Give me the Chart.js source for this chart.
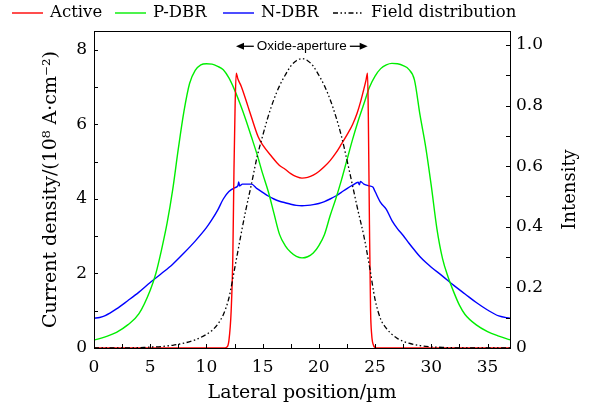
<!DOCTYPE html>
<html>
<head>
<meta charset="utf-8">
<script src="https://cdn.jsdelivr.net/npm/chart.js@4.4.0/dist/chart.umd.min.js"></script>
<style>
  html, body { margin: 0; padding: 0; background: #fff; }
</style>
</head>
<body>
<canvas id="chart" width="593" height="407"></canvas>
<script>
// values, lateral position in um

var activeX = [0, 11.5, 11.8, 12.0, 12.2, 12.35, 12.45, 12.55, 12.65, 12.8, 13.1, 13.7, 14.0, 14.6, 15.0, 15.8, 16.5, 17.0, 17.5, 18.0, 18.5,
               19.0, 19.5, 20.0, 20.5, 21.0, 21.5, 22.0, 22.5, 23.0, 23.4, 23.7, 24.0, 24.2, 24.33, 24.4, 24.5, 24.6, 24.7, 24.85, 25.1, 37];
var activeY = [0, 0, 0.02, 0.2, 1.0, 2.5, 4.8, 6.5, 7.38, 7.22, 7.02, 6.48, 6.2, 5.67, 5.45, 5.14, 4.9, 4.8, 4.68, 4.6, 4.56,
               4.58, 4.64, 4.74, 4.87, 5.03, 5.23, 5.47, 5.72, 6.0, 6.3, 6.6, 6.95, 7.2, 7.38, 6.2, 3.3, 1.0, 0.35, 0.08, 0, 0];

var pdbrX = [0, 1, 2, 3, 4, 5, 5.5, 6, 6.5, 7, 7.5, 8, 8.5, 9, 9.5, 10, 10.5, 11, 11.5, 12, 12.5, 13, 13.5, 14, 14.5, 15, 15.5, 16, 16.5, 17, 17.5, 18, 18.5,
             19, 19.5, 20, 20.5, 21, 21.5, 22, 22.5, 23, 23.5, 24, 24.5, 25, 25.5, 26, 26.5, 27, 27.5, 28, 28.5, 29, 29.5, 30, 30.5, 31, 31.5, 32, 32.5, 33, 34, 35, 36, 37];
var pdbrY = [0.21, 0.3, 0.42, 0.62, 0.92, 1.55, 2.0, 2.63, 3.35, 4.25, 5.35, 6.35, 7.1, 7.45, 7.6, 7.63, 7.62, 7.56, 7.47, 7.25, 6.93, 6.55, 6.13, 5.67, 5.2, 4.68, 4.2, 3.62, 3.05, 2.75, 2.57, 2.46, 2.42,
             2.45, 2.55, 2.75, 3.05, 3.55, 4.0, 4.5, 5.05, 5.6, 6.1, 6.55, 7.0, 7.3, 7.5, 7.6, 7.64, 7.63, 7.58, 7.48, 7.2, 6.25, 5.4, 4.35, 3.2, 2.4, 1.9, 1.5, 1.15, 0.9, 0.62, 0.44, 0.32, 0.22];

var ndbrX = [0, 0.5, 1, 2, 3, 4, 5, 6, 7, 8, 9, 10, 10.5, 11, 11.5, 12, 12.5, 12.8, 12.87, 12.95, 13.2, 14, 14.5, 15, 15.5, 16, 16.5, 17, 17.5, 18, 18.5,
             19, 19.5, 20, 20.5, 21, 21.5, 22, 22.5, 23, 23.5, 23.6, 23.7, 24, 24.5, 24.8, 25, 25.5, 26, 26.5, 27, 27.5, 28, 28.5, 29, 29.5, 30, 31, 32, 33, 34, 35, 36, 37];
var ndbrY = [0.8, 0.82, 0.87, 1.05, 1.27, 1.5, 1.76, 2.0, 2.25, 2.55, 2.87, 3.23, 3.45, 3.7, 4.0, 4.2, 4.3, 4.36, 4.46, 4.35, 4.4, 4.4, 4.28, 4.18, 4.08, 4.0, 3.94, 3.9, 3.86, 3.83, 3.82,
             3.83, 3.85, 3.88, 3.93, 4.0, 4.08, 4.18, 4.28, 4.37, 4.45, 4.38, 4.47, 4.4, 4.35, 4.32, 4.2, 3.9, 3.72, 3.42, 3.2, 3.02, 2.82, 2.63, 2.45, 2.3, 2.17, 1.93, 1.68, 1.45, 1.22, 1.02, 0.86, 0.8];

var fieldX = [0, 3, 5, 6, 7, 8, 9, 10, 10.5, 11, 11.5, 12, 12.5, 13, 13.5, 14, 14.5, 15, 15.5, 16, 16.5, 17, 17.5, 18, 18.5,
              19, 19.5, 20, 20.5, 21, 21.5, 22, 22.5, 23, 23.5, 24, 24.5, 25, 25.5, 26, 26.5, 27, 28, 29, 30, 31, 33, 37];
var fieldY = [0, 0, 0.003, 0.005, 0.009, 0.016, 0.027, 0.045, 0.058, 0.078, 0.11, 0.165, 0.26, 0.36, 0.455, 0.54, 0.63, 0.7, 0.765, 0.82, 0.865, 0.9, 0.93, 0.948, 0.955,
              0.948, 0.93, 0.9, 0.865, 0.82, 0.765, 0.7, 0.62, 0.535, 0.45, 0.37, 0.27, 0.16, 0.095, 0.065, 0.045, 0.031, 0.016, 0.008, 0.004, 0.002, 0, 0];

var seriesLabels = ['Active', 'P-DBR', 'N-DBR', 'Field distribution'];
var xTitle = 'Lateral position/\u00b5m';
var yTitle = 'Current density/(10\u2078 A\u00b7cm\u207b\u00b2)';
var y1Title = 'Intensity';
var apertureLabel = 'Oxide-aperture';
var apertureEdges = [12.63, 24.34];
var apertureLevel = 8.1;

function pts(xs, ys) {
    return xs.map(function(v, i) { return { x: v, y: ys[i] }; });
}

var serif = '"DejaVu Serif", serif';

function arrow(ctx, from, to, py) {
    var dir = to > from ? 1 : -1;
    ctx.beginPath();
    ctx.moveTo(from, py);
    ctx.lineTo(to - dir * 6, py);
    ctx.stroke();
    ctx.beginPath();
    ctx.moveTo(to, py);
    ctx.lineTo(to - dir * 8, py - 3.5);
    ctx.lineTo(to - dir * 8, py + 3.5);
    ctx.closePath();
    ctx.fill();
}

// inward ticks and closed frame
var frameTicks = {
    id: 'frameTicks',
    afterDatasetsDraw: function(chart) {
        var ctx = chart.ctx, a = chart.chartArea;
        var sx = chart.scales.x, sy = chart.scales.y, sy1 = chart.scales.y1;
        var v, p;
        ctx.save();
        ctx.strokeStyle = '#000';
        ctx.lineWidth = 1;
        ctx.beginPath();
        for (v = 0; v <= 37; v += 2.5) {
            p = Math.round(sx.getPixelForValue(v)) + 0.5;
            ctx.moveTo(p, a.bottom);
            ctx.lineTo(p, a.bottom - 4);
        }
        for (v = 0; v <= 8; v += 1) {
            p = Math.round(sy.getPixelForValue(v)) + 0.5;
            ctx.moveTo(a.left, p);
            ctx.lineTo(a.left + 4, p);
        }
        for (v = 0; v <= 10; v += 1) {
            p = Math.round(sy1.getPixelForValue(v / 10)) + 0.5;
            ctx.moveTo(a.right, p);
            ctx.lineTo(a.right - 4, p);
        }
        ctx.stroke();
        ctx.strokeRect(a.left + 0.5, a.top + 0.5, a.right - a.left, a.bottom - a.top);

        // right axis title reads bottom to top, like the left one
        ctx.fillStyle = '#000';
        ctx.font = '18px ' + serif;
        ctx.textAlign = 'center';
        ctx.textBaseline = 'middle';
        ctx.translate(570, (a.top + a.bottom) / 2);
        ctx.rotate(-Math.PI / 2);
        ctx.fillText(y1Title, 0, 0);
        ctx.restore();
    }
};

var aperture = {
    id: 'aperture',
    afterDatasetsDraw: function(chart) {
        var ctx = chart.ctx, sx = chart.scales.x, sy = chart.scales.y;
        var x0 = sx.getPixelForValue(apertureEdges[0]);
        var x1 = sx.getPixelForValue(apertureEdges[1]);
        var py = sy.getPixelForValue(apertureLevel);
        var mid = (x0 + x1) / 2;
        ctx.save();
        ctx.font = '13.5px "Liberation Sans", Arial, sans-serif';
        ctx.textAlign = 'center';
        ctx.textBaseline = 'middle';
        ctx.fillStyle = '#000';
        ctx.strokeStyle = '#000';
        ctx.lineWidth = 1.3;
        ctx.fillText(apertureLabel, mid, py);
        var hw = ctx.measureText(apertureLabel).width / 2 + 3;
        arrow(ctx, mid - hw, x0, py);
        arrow(ctx, mid + hw, x1, py);
        ctx.restore();
    }
};

var legendLineX = [12, 115, 223, 333];

var topLegend = {
    id: 'topLegend',
    afterDraw: function(chart) {
        var ctx = chart.ctx;
        var yy = 13;
        ctx.save();
        ctx.font = '16.5px ' + serif;
        ctx.textBaseline = 'middle';
        chart.data.datasets.forEach(function(ds, i) {
            var x = legendLineX[i];
            ctx.strokeStyle = ds.borderColor;
            ctx.lineWidth = ds.borderWidth;
            ctx.setLineDash(ds.borderDash || []);
            ctx.beginPath();
            ctx.moveTo(x, yy);
            ctx.lineTo(x + 31, yy);
            ctx.stroke();
            ctx.setLineDash([]);
            ctx.fillStyle = '#000';
            ctx.fillText(ds.label, x + 38, yy);
        });
        ctx.restore();
    }
};

Chart.defaults.font.family = serif;
Chart.defaults.color = '#000';

new Chart(document.getElementById('chart').getContext('2d'), {
    type: 'line',
    data: {
        datasets: [
            { label: seriesLabels[0], data: pts(activeX, activeY), borderColor: '#ff0000', borderWidth: 1.4, yAxisID: 'y', order: 1 },
            { label: seriesLabels[1], data: pts(pdbrX, pdbrY), borderColor: '#00ee00', borderWidth: 1.4, yAxisID: 'y', order: 2 },
            { label: seriesLabels[2], data: pts(ndbrX, ndbrY), borderColor: '#0000ff', borderWidth: 1.4, yAxisID: 'y', order: 3 },
            { label: seriesLabels[3], data: pts(fieldX, fieldY), borderColor: '#000000', borderWidth: 1.3,
              borderDash: [5, 2.5, 1.5, 2.5, 1.5, 2.5], yAxisID: 'y1', order: 0 }
        ]
    },
    options: {
        responsive: false,
        animation: false,
        events: [],
        layout: { padding: { top: 31, left: 0, right: 0, bottom: 0 } },
        elements: {
            point: { radius: 0 },
            line: { cubicInterpolationMode: 'monotone', fill: false }
        },
        plugins: { legend: { display: false }, tooltip: { enabled: false } },
        scales: {
            x: {
                type: 'linear', min: 0, max: 37,
                grid: { display: false, drawTicks: false },
                border: { display: false },
                ticks: { stepSize: 5, includeBounds: false, padding: 9, font: { size: 17 } },
                title: { display: true, text: xTitle, font: { size: 19 }, padding: { top: 0, bottom: 3 } },
                afterFit: function(s) { s.height = 59; }
            },
            y: {
                position: 'left', min: 0, max: 8.51,
                grid: { display: false, drawTicks: false },
                border: { display: false },
                ticks: { stepSize: 2, includeBounds: false, padding: 7, font: { size: 17 } },
                title: { display: true, text: yTitle, font: { size: 19 }, padding: { top: 40, bottom: 0 } },
                afterFit: function(s) { s.width = 94; }
            },
            y1: {
                position: 'right', min: 0, max: 1.046,
                grid: { display: false, drawTicks: false },
                border: { display: false },
                ticks: {
                    stepSize: 0.2, includeBounds: false, padding: 6, font: { size: 17 },
                    callback: function(v) { return v === 0 ? '0' : v.toFixed(1); }
                },
                afterFit: function(s) { s.width = 83; }
            }
        }
    },
    plugins: [frameTicks, aperture, topLegend]
});
</script>
</body>
</html>
